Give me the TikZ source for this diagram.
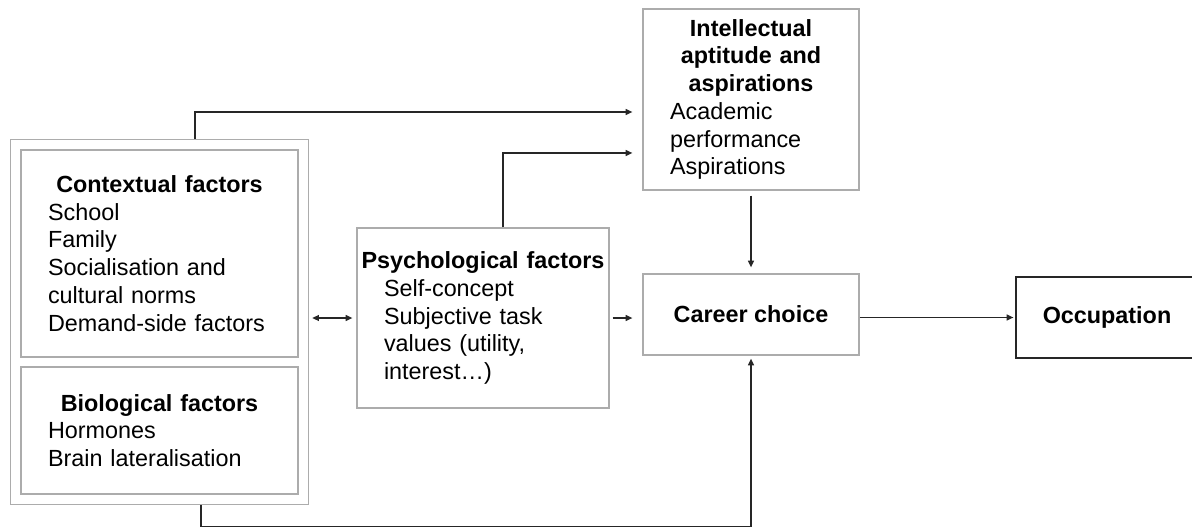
\documentclass[tikz,border=0pt]{standalone}
\usepackage{fontspec}
\setmainfont{Liberation Sans}
\usetikzlibrary{arrows.meta,positioning,fit,calc}
\newcommand{\facthead}[1]{\makebox[\hsize]{\bfseries #1}}

\begin{document}
\begin{tikzpicture}[x=0.02cm, y=-0.02cm,
    >={Triangle[length=3.8pt,width=3.4pt]},
    every node/.style={font=\fontsize{13.3}{15.8}\selectfont},
    factor/.style={draw=gray!65, line width=0.75pt, align=left, inner xsep=0.54cm, inner ysep=0pt},
    outcome/.style={draw=gray!65, line width=0.75pt, align=center, font=\fontsize{13.3}{15.8}\selectfont\bfseries, minimum height=1.62cm},
    link/.style={->, line width=0.75pt, black!85}]
  \useasboundingbox (0,0) rectangle (1192,527);

  % left column: contextual and biological factors
  \node[factor, text width=4.46cm, minimum height=4.14cm] (ctx) at (159.5,253.5)
    {\facthead{Contextual factors}\\ School\\ Family\\ Socialisation and\\ cultural norms\\ Demand-side factors};
  \node[factor, text width=4.46cm, minimum height=2.54cm] (bio) at (159.5,430.5)
    {\facthead{Biological factors}\\ Hormones\\ Brain lateralisation};
  \node[draw=gray!65, line width=0.75pt, fit=(ctx)(bio), inner sep=0.2cm] (indiv) {};

  % middle and right
  \node[factor, text width=3.96cm, minimum height=3.6cm] (psych) at (483,318)
    {\facthead{Psychological factors}\\ Self-concept\\ Subjective task\\ values (utility,\\ interest\dots)};
  \node[factor, text width=3.24cm, minimum height=3.62cm] (intel) at (751,99.5)
    {\facthead{Intellectual}\\ \facthead{aptitude and}\\ \facthead{aspirations}\\ Academic\\ performance\\ Aspirations};
  \node[outcome, minimum width=4.32cm] (career) at (751,314.5) {Career choice};
  \node[outcome, draw=black!85, minimum width=3.64cm] (occ) at (1107,317.5) {Occupation};

  \draw[link, shorten >=0.2cm] ([xshift=0.71cm]indiv.north) |- ([yshift=-0.25cm]intel.west);
  \draw[link, shorten >=0.2cm] ([xshift=0.4cm]psych.north) |- ([yshift=-1.07cm]intel.west);
  \draw[link, shorten <=0.1cm, shorten >=0.12cm] (intel.south) -- (career.north);
  \draw[<->, line width=0.75pt, black!85, shorten <=0.06cm, shorten >=0.08cm] (indiv.east |- psych.west) -- (psych.west);
  \draw[link, shorten <=0.06cm, shorten >=0.2cm] (psych.east) -- (career.west |- psych.east);
  \draw[link, shorten >=0.04cm] (career.east |- occ.west) -- (occ.west);
  \draw[link, shorten >=0.06cm] ([xshift=0.83cm]indiv.south) -- ++(0,21) -| (career.south);
\end{tikzpicture}
\end{document}
